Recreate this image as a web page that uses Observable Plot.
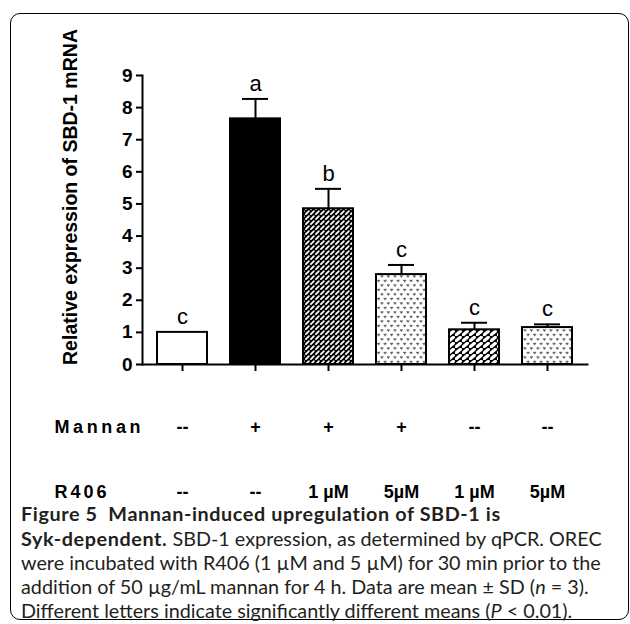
<!DOCTYPE html>
<html>
<head>
<meta charset="utf-8">
<script src="https://cdn.jsdelivr.net/npm/d3@7"></script>
<script src="https://cdn.jsdelivr.net/npm/@observablehq/plot@0.6"></script>
<style>
  html, body { margin: 0; padding: 0; background: #fff; }
  #page { position: relative; width: 630px; height: 624px; overflow: hidden; background: #fff; }
  #box { position: absolute; left: 10px; top: 13px; width: 619px; height: 607px; border: 1.5px solid #000; border-radius: 10px; box-sizing: border-box; }
  #chart { position: absolute; left: 0; top: 0; }
  .rowlabA text { letter-spacing: 3.6px; }
  .rowlabB text { letter-spacing: 3px; }
  .cap { position: absolute; left: 21px; font-family: Lato, sans-serif; font-size: 19.8px; color: #231f20; white-space: nowrap; line-height: 24px; }
  .cap b { font-weight: bold; letter-spacing: 0.6px; }
</style>
</head>
<body>
<div id="page">
  <div id="box"></div>
  <div id="chart"></div>
  <div class="cap" style="top:501px"><b>Figure 5&nbsp; Mannan-induced upregulation of SBD-1 is</b></div>
  <div class="cap" style="top:526px"><b>Syk-dependent.</b> SBD-1 expression, as determined by qPCR. OREC</div>
  <div class="cap" style="top:550px">were incubated with R406 (1 µM and 5 µM) for 30 min prior to the</div>
  <div class="cap" style="top:574px">addition of 50 µg/mL mannan for 4 h. Data are mean ± SD (<i>n</i> = 3).</div>
  <div class="cap" style="top:598px">Different letters indicate significantly different means (<i>P</i> &lt; 0.01).</div>
</div>
<script>
const groups = ["G1", "G2", "G3", "G4", "G5", "G6"];
const means = [1.0, 7.65, 4.85, 2.8, 1.08, 1.15];
const sds = [0, 0.62, 0.62, 0.3, 0.22, 0.1];
const letters = ["c", "a", "b", "c", "c", "c"];
const mannanRow = ["--", "+", "+", "+", "--", "--"];
const r406Row = ["--", "--", "1 µM", "5µM", "1 µM", "5µM"];
const yTicks = [0, 1, 2, 3, 4, 5, 6, 7, 8, 9];
const yLabel = "Relative expression of SBD-1 mRNA";

const fills = ["white", "black", "url(#patBrick)", "url(#patDots)", "url(#patDash)", "url(#patDots)"];

const data = groups.map((g, i) => ({g, mean: means[i], sd: sds[i], letter: letters[i], mannan: mannanRow[i], r406: r406Row[i]}));
const withErr = data.filter(d => d.sd > 0);

const chart = Plot.plot({
  width: 630,
  height: 505,
  marginLeft: 142,
  marginRight: 43,
  marginTop: 75,
  marginBottom: 141,
  style: {fontFamily: "'Liberation Sans', Arial, sans-serif", color: "black", background: "transparent"},
  x: {domain: groups, paddingInner: 0.32, paddingOuter: 0.187},
  y: {domain: [0, 9]},
  color: {type: "ordinal", domain: groups, range: fills},
  marks: [
    Plot.barY(data, {x: "g", y: "mean", fill: "g", stroke: "black", strokeWidth: 2}),
    Plot.ruleX(withErr, {x: "g", y1: "mean", y2: d => d.mean + d.sd, stroke: "black", strokeWidth: 2}),
    Plot.tickY(withErr, {x: "g", y: d => d.mean + d.sd, stroke: "black", strokeWidth: 2, insetLeft: 12, insetRight: 12}),
    Plot.text(data, {x: "g", y: d => d.mean + d.sd, text: "letter", dy: -8, lineAnchor: "bottom", fontSize: 22}),
    Plot.frame({anchor: "left", stroke: "black", strokeWidth: 2}),
    Plot.frame({anchor: "bottom", stroke: "black", strokeWidth: 2}),
    Plot.axisY({ticks: yTicks, tickSize: 6, tickPadding: 4, fontSize: 19, fontWeight: "bold", label: null, strokeWidth: 2}),
    Plot.axisX({tickSize: 7, tickFormat: () => "", label: null, strokeWidth: 2}),
    Plot.text([yLabel], {text: d => d, frameAnchor: "left", textAnchor: "middle", lineAnchor: "middle", rotate: -90, dx: -72, dy: -23, fontSize: 19.5, fontWeight: "bold"}),
    Plot.text(data, {x: "g", text: "mannan", frameAnchor: "bottom", dy: 63, lineAnchor: "middle", fontSize: 18, fontWeight: "bold"}),
    Plot.text(data, {x: "g", text: "r406", frameAnchor: "bottom", dy: 128, lineAnchor: "middle", fontSize: 18, fontWeight: "bold"}),
    Plot.text(["Mannan"], {text: d => d, frameAnchor: "bottom-left", dx: -88, dy: 63, textAnchor: "start", lineAnchor: "middle", fontSize: 18, fontWeight: "bold", className: "rowlabA"}),
    Plot.text(["R406"], {text: d => d, frameAnchor: "bottom-left", dx: -88, dy: 128, textAnchor: "start", lineAnchor: "middle", fontSize: 18, fontWeight: "bold", className: "rowlabB"})
  ]
});

const defs = `
<defs>
  <pattern id="patBrick" patternUnits="userSpaceOnUse" width="5" height="5">
    <rect width="5" height="5" fill="black"/>
    <path d="M0.9,4.1 L3.9,1.1" stroke="white" stroke-width="1.7" stroke-linecap="round"/>
  </pattern>
  <pattern id="patDash" patternUnits="userSpaceOnUse" width="7" height="6">
    <rect width="7" height="6" fill="black"/>
    <path d="M1.2,4.8 L5.4,1.2" stroke="white" stroke-width="3.1" stroke-linecap="round"/>
  </pattern>
  <pattern id="patDots" patternUnits="userSpaceOnUse" width="6.5" height="9">
    <rect width="6.5" height="9" fill="white"/>
    <path d="M0.5,0.8 L1.6,2.4 L2.7,0.8 M3.8,5.3 L4.9,6.9 L6,5.3" stroke="#555" stroke-width="1.2" fill="none"/>
  </pattern>
</defs>`;
chart.insertAdjacentHTML("afterbegin", defs);
document.getElementById("chart").appendChild(chart);
</script>
</body>
</html>
